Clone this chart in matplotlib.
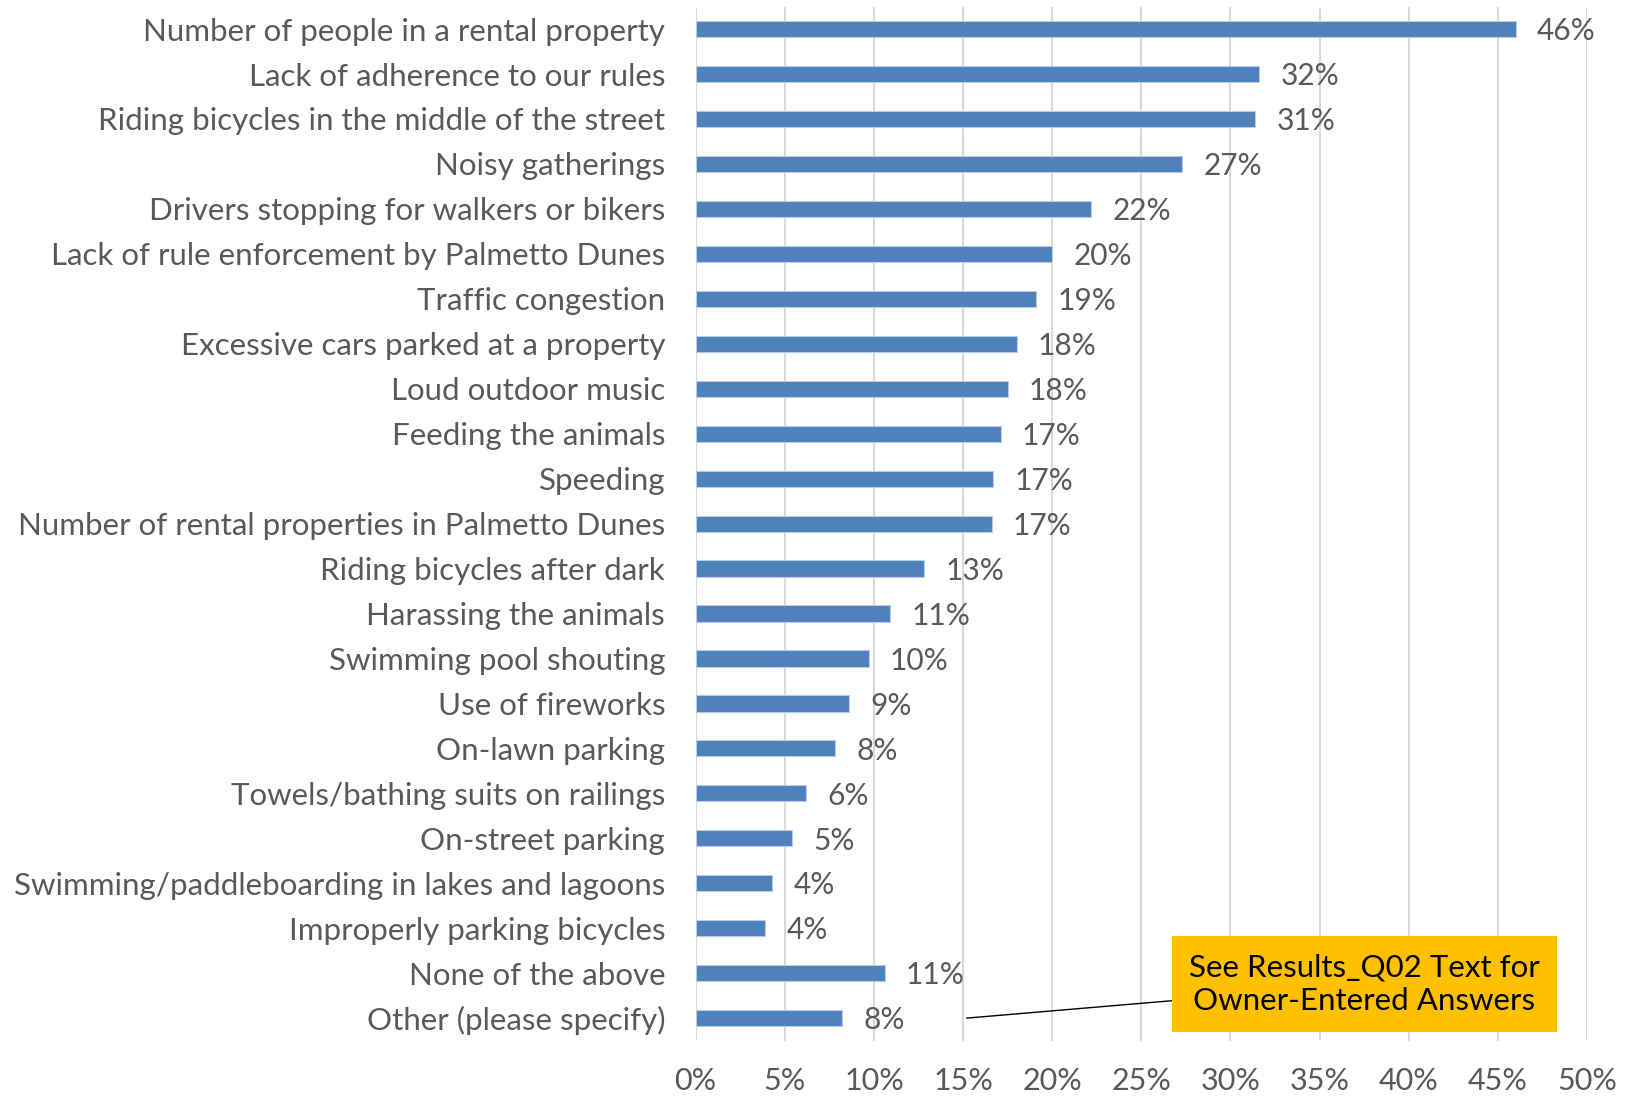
import matplotlib
matplotlib.use("Agg")
import matplotlib.pyplot as plt
import numpy as np

plt.rcParams['font.family'] = ['Lato', 'DejaVu Sans']

# Survey answers, top to bottom as listed
issues = [
    "Number of people in a rental property",
    "Lack of adherence to our rules",
    "Riding bicycles in the middle of the street",
    "Noisy gatherings",
    "Drivers stopping for walkers or bikers",
    "Lack of rule enforcement by Palmetto Dunes",
    "Traffic congestion",
    "Excessive cars parked at a property",
    "Loud outdoor music",
    "Feeding the animals",
    "Speeding",
    "Number of rental properties in Palmetto Dunes",
    "Riding bicycles after dark",
    "Harassing the animals",
    "Swimming pool shouting",
    "Use of fireworks",
    "On-lawn parking",
    "Towels/bathing suits on railings",
    "On-street parking",
    "Swimming/paddleboarding in lakes and lagoons",
    "Improperly parking bicycles",
    "None of the above",
    "Other (please specify)",
]
# share of respondents, percent
shares = [46.0, 31.6, 31.4, 27.3, 22.2, 20.0, 19.1, 18.0, 17.5, 17.1, 16.7,
          16.6, 12.8, 10.9, 9.7, 8.6, 7.8, 6.2, 5.4, 4.3, 3.9, 10.6, 8.2]
xticks = [0, 5, 10, 15, 20, 25, 30, 35, 40, 45, 50]

bar_color = '#4F81BD'
text_color = '#595959'

fig = plt.figure(figsize=(16.3, 11), dpi=100)
ax = fig.add_axes([0.4268, 0.054, 0.5468, 0.940])

y = np.arange(len(issues))
ax.barh(y, shares, height=0.36, color=bar_color, edgecolor='#B9CDE5', linewidth=0.8, zorder=3)
ax.set_ylim(len(issues) - 0.5, -0.5)
ax.set_xlim(0, 50)

for yi, v in zip(y, shares):
    ax.text(v + 1.2, yi + 0.05, f"{v:.0f}%", va='center', ha='left',
            fontsize=21.5, color=text_color)

ax.set_yticks(y)
ax.set_yticklabels(issues, fontsize=22.5, color=text_color)
ax.set_xticks(xticks)
ax.set_xticklabels([f"{t}%" for t in xticks], fontsize=22, color=text_color)
ax.tick_params(axis='y', length=0, pad=22)
ax.tick_params(axis='x', length=0, pad=19)

ax.grid(axis='x', color='#D9D9D9', linewidth=1.5, zorder=0)
for s in ax.spines.values():
    s.set_visible(False)

ax.annotate("See Results_Q02 Text for\nOwner-Entered Answers",
            xy=(15.2, 22.0), xytext=(37.5, 21.25),
            ha='center', va='center', fontsize=22.5, color='black',
            linespacing=1.25,
            bbox=dict(boxstyle='square,pad=0.55', facecolor='#FFC000', edgecolor='none'),
            arrowprops=dict(arrowstyle='-', color='black', linewidth=1,
                            shrinkA=0, shrinkB=0),
            zorder=5)

fig.savefig('out.png', dpi=100)
